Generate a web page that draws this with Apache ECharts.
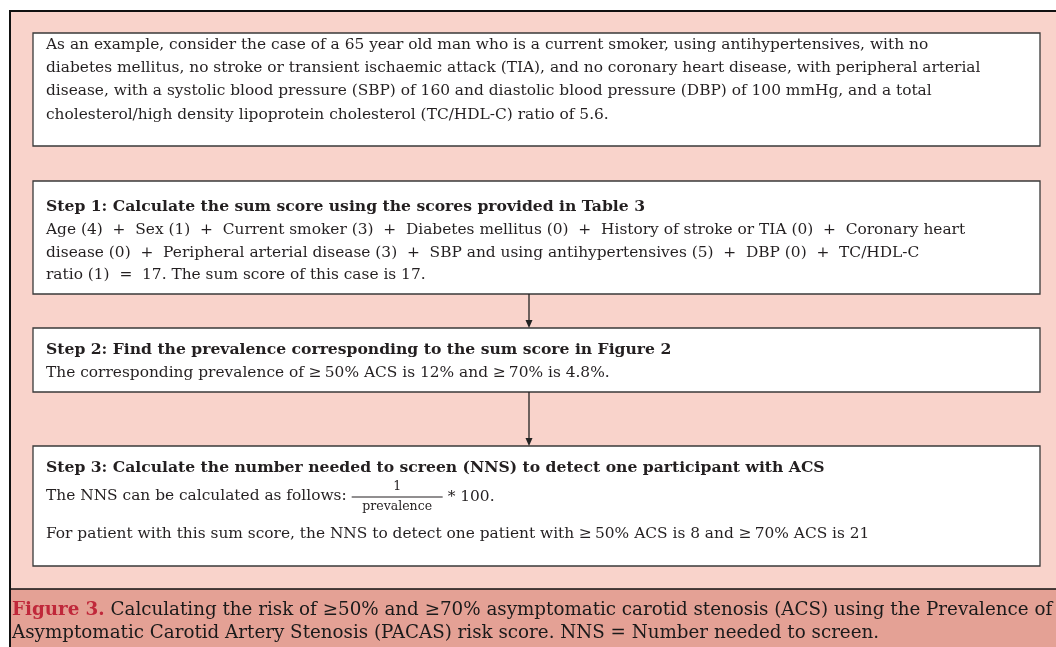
<!DOCTYPE html>
<html>
<head>
<meta charset="utf-8">
<script src="https://cdn.jsdelivr.net/npm/echarts@6/dist/echarts.min.js"></script>
<style>
  html, body { margin: 0; padding: 0; background: #fff; }
  #chart { width: 1056px; height: 647px; }
</style>
</head>
<body>
<div id="chart"></div>
<script>
// text content of the figure
const introLines = [
  'As an example, consider the case of a 65 year old man who is a current smoker, using antihypertensives, with no',
  'diabetes mellitus, no stroke or transient ischaemic attack (TIA), and no coronary heart disease, with peripheral arterial',
  'disease, with a systolic blood pressure (SBP) of 160 and diastolic blood pressure (DBP) of 100 mmHg, and a total',
  'cholesterol/high density lipoprotein cholesterol (TC/HDL-C) ratio of 5.6.'
]
const stepTitles = [
  'Step 1: Calculate the sum score using the scores provided in Table 3',
  'Step 2: Find the prevalence corresponding to the sum score in Figure 2',
  'Step 3: Calculate the number needed to screen (NNS) to detect one participant with ACS'
]
const step1Lines = [
  'Age (4)  +  Sex (1)  +  Current smoker (3)  +  Diabetes mellitus (0)  +  History of stroke or TIA (0)  +  Coronary heart',
  'disease (0)  +  Peripheral arterial disease (3)  +  SBP and using antihypertensives (5)  +  DBP (0)  +  TC/HDL-C',
  'ratio (1)  =  17. The sum score of this case is 17.'
]
const step2Lines = [
  'The corresponding prevalence of \u2265\u200950% ACS is 12% and \u2265\u200970% is 4.8%.'
]
const step3Formula = ['The NNS can be calculated as follows:', '1', 'prevalence', '* 100.']
const step3Lines = [
  'For patient with this sum score, the NNS to detect one patient with \u2265\u200950% ACS is 8 and \u2265\u200970% ACS is 21'
]
const captionLines = [
  ['Figure 3.', ' Calculating the risk of \u226550% and \u226570% asymptomatic carotid stenosis (ACS) using the Prevalence of'],
  ['', 'Asymptomatic Carotid Artery Stenosis (PACAS) risk score. NNS = Number needed to screen.']
]

const serif = '"DejaVu Serif", serif'
const ink = '#231f20'
const fs = 15.4
const fsBold = 15.6
const fsCap = 18.3
const boxX = 33, boxW = 1007, textX = 46

function measure (str, size) {
  const ctx = document.createElement('canvas').getContext('2d')
  ctx.font = size + 'px ' + serif
  return ctx.measureText(str).width
}
function textLine (str, y, bold) {
  return {
    type: 'text', x: textX, y: y,
    style: {
      text: str, fill: ink, fontFamily: serif,
      fontSize: bold ? fsBold : fs, fontWeight: bold ? 'bold' : 'normal',
      verticalAlign: 'middle', align: 'left'
    }
  }
}
function box (y1, y2) {
  return {
    type: 'rect', shape: { x: boxX, y: y1, width: boxW, height: y2 - y1 },
    style: { fill: '#fff', stroke: '#3a3a3a', lineWidth: 1.3 }
  }
}
function arrow (x, y1, y2) {
  return [
    { type: 'line', shape: { x1: x, y1: y1, x2: x, y2: y2 - 6 }, style: { stroke: '#222', lineWidth: 1.3 } },
    { type: 'polygon', shape: { points: [[x - 3.5, y2 - 8], [x + 3.5, y2 - 8], [x, y2]] }, style: { fill: '#222' } }
  ]
}

const elements = []
// background panels
elements.push({ type: 'rect', shape: { x: 10, y: 11, width: 1060, height: 640 }, style: { fill: '#f9d3cb', stroke: '#111', lineWidth: 2 } })
elements.push({ type: 'rect', shape: { x: 11, y: 589, width: 1060, height: 70 }, style: { fill: '#e4a195' } })
elements.push({ type: 'line', shape: { x1: 10, y1: 589, x2: 1056, y2: 589 }, style: { stroke: '#111', lineWidth: 1.5 } })
elements.push({ type: 'line', shape: { x1: 10, y1: 11, x2: 10, y2: 647 }, style: { stroke: '#111', lineWidth: 2 } })

// intro box
elements.push(box(33, 146))
introLines.forEach((s, i) => elements.push(textLine(s, 45 + i * 23.2)))

// step 1
elements.push(box(181, 294))
elements.push(textLine(stepTitles[0], 207, true))
step1Lines.forEach((s, i) => elements.push(textLine(s, 230 + i * 22.7)))

// step 2
elements.push(box(328, 392))
elements.push(textLine(stepTitles[1], 350, true))
step2Lines.forEach((s, i) => elements.push(textLine(s, 373 + i * 23)))

// step 3
elements.push(box(446, 566))
elements.push(textLine(stepTitles[2], 468, true))
elements.push(textLine(step3Formula[0], 496))
const fx1 = textX + measure(step3Formula[0], fs) + 5
const fx2 = fx1 + 91
const fmid = (fx1 + fx2) / 2
elements.push({ type: 'line', shape: { x1: fx1, y1: 497, x2: fx2, y2: 497 }, style: { stroke: ink, lineWidth: 1 } })
elements.push({ type: 'text', x: fmid, y: 487, style: { text: step3Formula[1], fill: ink, fontFamily: serif, fontSize: 12.5, align: 'center', verticalAlign: 'middle' } })
elements.push({ type: 'text', x: fmid, y: 507, style: { text: step3Formula[2], fill: ink, fontFamily: serif, fontSize: 12.5, align: 'center', verticalAlign: 'middle' } })
elements.push({ type: 'text', x: fx2 + 5, y: 497, style: { text: step3Formula[3], fill: ink, fontFamily: serif, fontSize: fs, align: 'left', verticalAlign: 'middle' } })
step3Lines.forEach((s, i) => elements.push(textLine(s, 534 + i * 23)))

// arrows between steps
arrow(529, 294, 328).forEach(e => elements.push(e))
arrow(529, 392, 446).forEach(e => elements.push(e))

// caption
captionLines.forEach((parts, i) => {
  elements.push({
    type: 'text', x: 12, y: 610 + i * 23,
    style: {
      text: (parts[0] ? '{fig|' + parts[0] + '}' : '') + '{txt|' + parts[1] + '}',
      verticalAlign: 'middle', align: 'left',
      rich: {
        fig: { fill: '#c0283a', fontWeight: 'bold', fontFamily: serif, fontSize: fsCap },
        txt: { fill: '#1a1a1a', fontFamily: serif, fontSize: fsCap }
      }
    }
  })
})

const chart = echarts.init(document.getElementById('chart'), null, { renderer: 'canvas' })
chart.setOption({
  animation: false,
  backgroundColor: '#fff',
  graphic: { elements: elements }
})
</script>
</body>
</html>
